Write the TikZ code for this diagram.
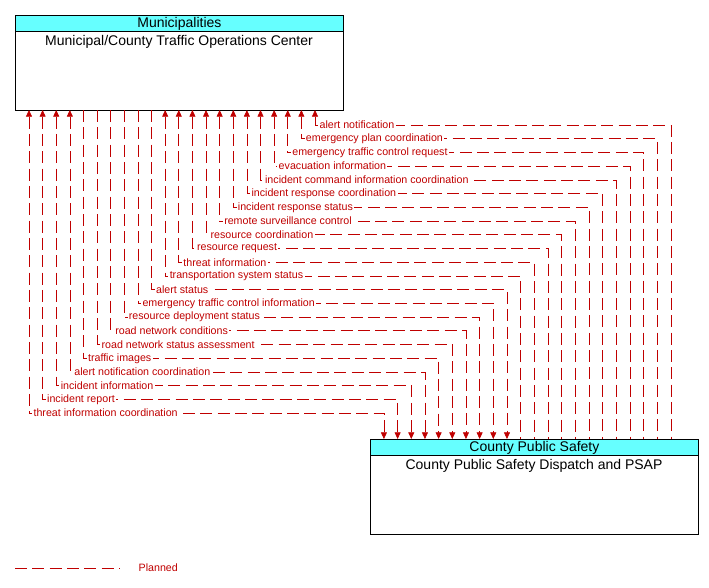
\documentclass[tikz,border=0pt]{standalone}
\usepackage{fontspec}
\setmainfont{Liberation Sans}
\usetikzlibrary{arrows.meta}

\definecolor{flowred}{RGB}{192,0,0}
\definecolor{headcyan}{RGB}{102,255,255}

\tikzset{
    box/.style={draw, line width=0.6pt, anchor=north west, inner sep=0pt},
    header/.style={draw, fill=headcyan, line width=0.6pt, anchor=north west, inner sep=0pt, font=\fontsize{10.5}{11}\selectfont},
    flow/.style={draw=flowred, line width=0.5pt, dash pattern=on 9pt off 4pt},
    flowlabel/.style={anchor=west, fill=white, inner sep=1pt, text=flowred, font=\fontsize{8}{9}\selectfont}
}

\begin{document}
\begin{tikzpicture}[x=0.75pt, y=-0.75pt]
    \useasboundingbox (0,0) rectangle (709,587);

    % top box
    \node[box, minimum width=328*0.75pt, minimum height=95*0.75pt] (toc) at (15,15) {};
    \node[header, minimum width=328*0.75pt, minimum height=16*0.75pt] (tochead) at (15,15) {Municipalities};
    \node[anchor=north, font=\fontsize{10.5}{11}\selectfont] (tocname) at (179,31) {Municipal/County Traffic Operations Center};

    % bottom box
    \node[box, minimum width=328*0.75pt, minimum height=95*0.75pt] (psap) at (370,439) {};
    \node[header, minimum width=328*0.75pt, minimum height=16*0.75pt] (psaphead) at (370,439) {County Public Safety};
    \node[anchor=north, font=\fontsize{10.5}{11}\selectfont] (psapname) at (534,455) {County Public Safety Dispatch and PSAP};

    % flows
    \foreach \lab [count=\i from 0] in {alert notification, emergency plan coordination,
        emergency traffic control request, evacuation information,
        incident command information coordination, incident response coordination,
        incident response status, remote surveillance control, resource coordination,
        resource request, threat information, transportation system status, alert status,
        emergency traffic control information, resource deployment status,
        road network conditions, road network status assessment, traffic images,
        alert notification coordination, incident information, incident report,
        threat information coordination}
    {
        \pgfmathsetmacro\xl{315-13.62*\i}
        \pgfmathsetmacro\xr{671-13.67*\i}
        \pgfmathsetmacro\yf{125+13.72*\i}
        \ifnum\i<12
            \tikzset{cur/.style={{Triangle[length=5pt,width=4.5pt]}-}}
        \else\ifnum\i<18
            \tikzset{cur/.style={-{Triangle[length=5pt,width=4.5pt]}}}
        \else
            \tikzset{cur/.style={{Triangle[length=5pt,width=4.5pt]}-{Triangle[length=5pt,width=4.5pt]}}}
        \fi\fi
        \coordinate (s\i) at (\xl,110);
        \coordinate (d\i) at (\xr,439);
        \draw[flow, cur] (s\i) -- (\xl,\yf) -- (\xr,\yf) -- (d\i);
        \node[flowlabel] (f\i) at (\xl+3,\yf) {\lab};
    }

    % legend
    \coordinate (lg1) at (15,568);
    \coordinate (lg2) at (120,568);
    \draw[flow] (lg1) -- (lg2);
    \node[anchor=west, text=flowred, font=\fontsize{8}{9}\selectfont] (lgtext) at (134,568) {Planned};
\end{tikzpicture}
\end{document}
